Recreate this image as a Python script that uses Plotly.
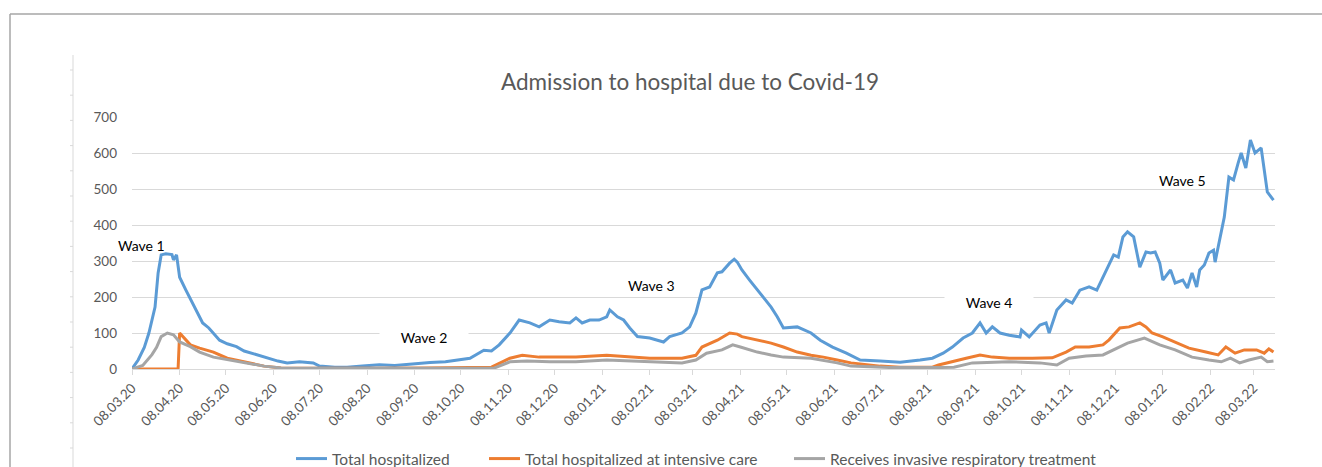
import plotly.graph_objects as go

# ---------------- data ----------------
total_dates = [
    "2020-03-08", "2020-03-12", "2020-03-16", "2020-03-19", "2020-03-23", "2020-03-25", "2020-03-27",
    "2020-03-30", "2020-04-03", "2020-04-04", "2020-04-06", "2020-04-08", "2020-04-12", "2020-04-18",
    "2020-04-23", "2020-04-27", "2020-05-04", "2020-05-09", "2020-05-15", "2020-05-20", "2020-05-25",
    "2020-05-31", "2020-06-05", "2020-06-11", "2020-06-17", "2020-06-25", "2020-07-04", "2020-07-08",
    "2020-07-18", "2020-07-26", "2020-08-05", "2020-08-16", "2020-08-26", "2020-09-07", "2020-09-18",
    "2020-09-28", "2020-10-07", "2020-10-14", "2020-10-23", "2020-10-28", "2020-11-02", "2020-11-09",
    "2020-11-15", "2020-11-22", "2020-11-28", "2020-12-05", "2020-12-11", "2020-12-18", "2020-12-22",
    "2020-12-26", "2020-12-31", "2021-01-06", "2021-01-11", "2021-01-13", "2021-01-18", "2021-01-22",
    "2021-01-26", "2021-01-31", "2021-02-08", "2021-02-17", "2021-02-21", "2021-03-01", "2021-03-06",
    "2021-03-10", "2021-03-14", "2021-03-19", "2021-03-24", "2021-03-27", "2021-04-01", "2021-04-04",
    "2021-04-06", "2021-04-09", "2021-04-14", "2021-04-19", "2021-04-23", "2021-04-28", "2021-05-02",
    "2021-05-06", "2021-05-15", "2021-05-24", "2021-05-30", "2021-06-07", "2021-06-16", "2021-06-25",
    "2021-07-08", "2021-07-21", "2021-08-03", "2021-08-11", "2021-08-18", "2021-08-24", "2021-08-31",
    "2021-09-06", "2021-09-11", "2021-09-15", "2021-09-19", "2021-09-24", "2021-09-30", "2021-10-07",
    "2021-10-08", "2021-10-13", "2021-10-20", "2021-10-24", "2021-10-26", "2021-10-31", "2021-11-06",
    "2021-11-10", "2021-11-15", "2021-11-21", "2021-11-26", "2021-11-30", "2021-12-07", "2021-12-10",
    "2021-12-13", "2021-12-16", "2021-12-20", "2021-12-24", "2021-12-28", "2021-12-31", "2022-01-03",
    "2022-01-06", "2022-01-08", "2022-01-13", "2022-01-16", "2022-01-21", "2022-01-24", "2022-01-27",
    "2022-01-30", "2022-02-01", "2022-02-04", "2022-02-07", "2022-02-10", "2022-02-11", "2022-02-15",
    "2022-02-17", "2022-02-20", "2022-02-23", "2022-02-26", "2022-02-28", "2022-03-03", "2022-03-06",
    "2022-03-09", "2022-03-13", "2022-03-17", "2022-03-21",
]
total_values = [
    0, 25, 60, 100, 172, 267, 317,
    320, 318, 303, 317, 255, 220, 172,
    128, 114, 80, 70, 62, 50, 44,
    35, 30, 22, 17, 20, 17, 8,
    5, 5, 8, 12, 10, 15, 18,
    20, 25, 30, 52, 50, 67, 100,
    136, 128, 117, 136, 131, 128, 142,
    128, 136, 136, 145, 164, 145, 136,
    114, 90, 86, 75, 90, 100, 117,
    155, 220, 228, 267, 270, 294, 305,
    297, 275, 247, 220, 200, 172, 145,
    114, 117, 100, 80, 61, 44, 25,
    22, 19, 25, 30, 44, 61, 86,
    100, 128, 100, 117, 100, 94, 89,
    108, 89, 122, 128, 100, 164, 192,
    183, 219, 228, 219, 256, 317, 311,
    367, 381, 367, 283, 325, 322, 325,
    294, 247, 275, 239, 247, 225, 267,
    228, 275, 289, 322, 330, 297, 381,
    422, 533, 525, 572, 600, 558, 636,
    600, 614, 492, 469,
]

icu_dates = [
    "2020-03-08", "2020-04-07", "2020-04-08", "2020-04-10", "2020-04-15", "2020-04-21", "2020-04-30",
    "2020-05-09", "2020-05-22", "2020-06-02", "2020-06-13", "2020-07-15", "2020-08-15", "2020-09-15",
    "2020-10-15", "2020-10-28", "2020-11-09", "2020-11-17", "2020-11-28", "2020-12-05", "2020-12-22",
    "2021-01-11", "2021-01-22", "2021-02-08", "2021-03-01", "2021-03-10", "2021-03-14", "2021-03-24",
    "2021-04-01", "2021-04-06", "2021-04-09", "2021-04-19", "2021-04-28", "2021-05-06", "2021-05-15",
    "2021-05-24", "2021-06-01", "2021-06-10", "2021-06-19", "2021-07-08", "2021-07-21", "2021-08-11",
    "2021-08-15", "2021-09-02", "2021-09-11", "2021-09-19", "2021-09-30", "2021-10-15", "2021-10-28",
    "2021-11-06", "2021-11-12", "2021-11-21", "2021-11-30", "2021-12-04", "2021-12-11", "2021-12-17",
    "2021-12-24", "2021-12-28", "2022-01-01", "2022-01-08", "2022-01-17", "2022-01-25", "2022-02-05",
    "2022-02-13", "2022-02-18", "2022-02-24", "2022-03-02", "2022-03-10", "2022-03-15", "2022-03-18",
    "2022-03-21",
]
icu_values = [
    0, 0, 100, 90, 67, 58, 47,
    30, 17, 8, 3, 2, 2, 3,
    4, 5, 30, 38, 33, 33, 33,
    38, 35, 30, 30, 38, 61, 80,
    100, 97, 90, 80, 72, 61, 47,
    38, 33, 25, 17, 8, 5, 5,
    11, 30, 39, 33, 30, 30, 31,
    47, 61, 61, 67, 81, 114, 117,
    128, 117, 100, 89, 72, 58, 47,
    39, 61, 44, 53, 53, 44, 56,
    47,
]

resp_dates = [
    "2020-03-08", "2020-03-15", "2020-03-21", "2020-03-24", "2020-03-27", "2020-03-31", "2020-04-04",
    "2020-04-08", "2020-04-15", "2020-04-21", "2020-04-30", "2020-05-10", "2020-05-22", "2020-06-02",
    "2020-06-13", "2020-07-15", "2020-08-15", "2020-09-15", "2020-10-15", "2020-10-30", "2020-11-09",
    "2020-11-20", "2020-12-05", "2020-12-22", "2021-01-11", "2021-02-08", "2021-03-01", "2021-03-10",
    "2021-03-17", "2021-03-27", "2021-04-03", "2021-04-08", "2021-04-19", "2021-04-28", "2021-05-06",
    "2021-05-24", "2021-06-10", "2021-06-19", "2021-07-15", "2021-08-15", "2021-08-25", "2021-09-06",
    "2021-09-30", "2021-10-20", "2021-10-31", "2021-11-08", "2021-11-19", "2021-11-30", "2021-12-07",
    "2021-12-16", "2021-12-27", "2022-01-06", "2022-01-16", "2022-01-27", "2022-02-07", "2022-02-15",
    "2022-02-21", "2022-02-27", "2022-03-05", "2022-03-13", "2022-03-17", "2022-03-21",
]
resp_values = [
    0, 10, 40, 60, 90, 100, 95,
    75, 62, 47, 33, 25, 17, 8,
    3, 2, 1, 2, 2, 3, 20,
    22, 20, 20, 25, 20, 17, 25,
    44, 53, 67, 61, 47, 39, 33,
    30, 17, 8, 4, 4, 5, 17,
    20, 17, 11, 30, 36, 39, 53,
    72, 86, 67, 53, 33, 25, 20,
    30, 17, 25, 33, 20, 22,
]

series_names = [
    "Total hospitalized",
    "Total hospitalized at intensive care",
    "Receives invasive respiratory treatment",
]
series_colors = ["#5B9BD5", "#ED7D31", "#A5A5A5"]

wave_labels = ["Wave 1", "Wave 2", "Wave 3", "Wave 4", "Wave 5"]
wave_dates = ["2020-03-14", "2020-09-14", "2021-02-09", "2021-09-17", "2022-01-21"]
wave_values = [344, 89, 233, 186, 525]
wave_boxed = [False, True, False, True, False]

# ---------------- figure ----------------
W, H = 1322, 467
L, R, T, B = 132, 47, 117, 98
pw, ph = W - L - R, H - T - B

def px(x):
    return (x - L) / pw

def py(y):
    return (H - B - y) / ph

legend_ids = ["legend", "legend2", "legend3"]
legend_left_px = [291, 484, 789]

fig = go.Figure()
for d, v, n, c, lg in zip([total_dates, icu_dates, resp_dates],
                          [total_values, icu_values, resp_values],
                          series_names, series_colors, legend_ids):
    fig.add_trace(go.Scatter(x=d, y=v, name=n, mode="lines", legend=lg,
                             line=dict(color=c, width=3), hoverinfo="skip"))

font_family = "Lato, 'Open Sans', sans-serif"
for lab, d, v, boxed in zip(wave_labels, wave_dates, wave_values, wave_boxed):
    fig.add_annotation(x=d, y=v, text=lab, showarrow=False,
                       font=dict(family=font_family, size=14, color="#000000"),
                       bgcolor="white" if boxed else "rgba(0,0,0,0)",
                       width=86 if boxed else None, height=22 if boxed else None)

shapes = [
    dict(type="line", xref="paper", yref="paper", x0=px(10), x1=px(W), y0=py(14), y1=py(14),
         line=dict(color="#A6A6A6", width=1.5)),
    dict(type="line", xref="paper", yref="paper", x0=px(10), x1=px(10), y0=py(14), y1=py(H),
         line=dict(color="#A6A6A6", width=1.5)),
    dict(type="line", xref="paper", yref="paper", x0=px(73), x1=px(73), y0=py(55), y1=py(H),
         line=dict(color="#D9D9D9", width=1)),
]
for i in range(17):
    yy = 70 + i * 25.2
    if yy > H:
        break
    shapes.append(dict(type="line", xref="paper", yref="paper", x0=px(70), x1=px(73),
                       y0=py(yy), y1=py(yy), line=dict(color="#D9D9D9", width=1)))

legend_common = dict(orientation="h", xanchor="left", xref="container", yref="container",
                     y=1 - 459 / H, yanchor="middle",
                     font=dict(family=font_family, size=15.5, color="#595959"),
                     itemwidth=31, bgcolor="rgba(0,0,0,0)")
legend_layout = {lg: dict(legend_common, x=lx / W) for lg, lx in zip(legend_ids, legend_left_px)}

fig.update_layout(
    width=W, height=H,
    margin=dict(l=L, r=R, t=T, b=B, autoexpand=False),
    paper_bgcolor="white", plot_bgcolor="white",
    title=dict(text="Admission to hospital due to Covid-19", x=690 / W,
               xanchor="center", y=1 - 82 / H, yanchor="middle",
               font=dict(family=font_family, size=22.5, color="#595959")),
    showlegend=True,
    shapes=shapes,
    xaxis=dict(type="date", range=["2020-03-08", "2022-03-22"], tick0="2020-03-08", dtick="M1",
               tickformat="%d.%m.%y", tickangle=-45, showgrid=False, automargin=False,
               showline=True, linecolor="#D9D9D9", linewidth=1,
               ticks="outside", ticklen=5, tickcolor="#D9D9D9",
               tickfont=dict(family=font_family, size=13.5, color="#595959"), zeroline=False),
    yaxis=dict(range=[0, 700], dtick=100, showgrid=True, gridcolor="#D9D9D9", gridwidth=1,
               zeroline=False, showline=False, ticks="", automargin=False,
               ticklabelstandoff=14,
               tickfont=dict(family=font_family, size=13.5, color="#595959")),
    **legend_layout,
)

fig.write_html("out.html", config={"displayModeBar": False},
               post_script="document.body.style.margin='0px';")
